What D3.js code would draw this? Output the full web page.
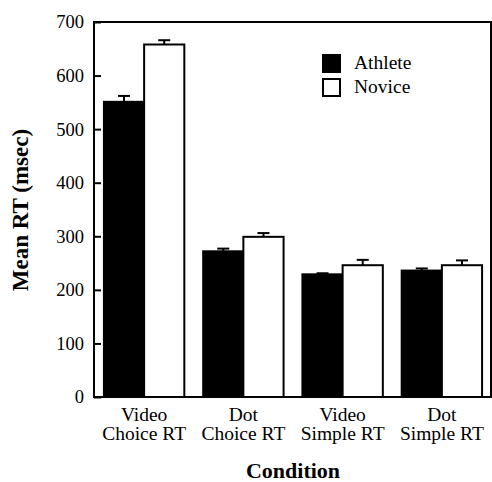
<!DOCTYPE html>
<html lang="en">
<head>
    <meta charset="UTF-8">
    <title>Mean RT by Condition</title>
    <style>
        body {
            margin: 0;
            padding: 0;
            background: #fff;
        }

        svg text {
            font-family: "Liberation Serif", "Times New Roman", serif;
            fill: #000;
        }
    </style>
</head>
<body>
    <svg width="492" height="482"></svg>

    <script src="https://d3js.org/d3.v7.min.js"></script>
    <script>
        // Data
        const conditions = [
            ["Video", "Choice RT"],
            ["Dot", "Choice RT"],
            ["Video", "Simple RT"],
            ["Dot", "Simple RT"]
        ];
        const groups = ["Athlete", "Novice"];
        const athleteMeans = [551, 272, 229, 236];
        const athleteErr = [11, 5, 2, 4];
        const noviceMeans = [658, 299, 246, 246];
        const noviceErr = [8, 7, 10, 9];
        const yTicks = [0, 100, 200, 300, 400, 500, 600, 700];

        const svg = d3.select("svg");
        const plotLeft = 94, plotRight = 491, plotTop = 22, plotBottom = 397;

        const x = d3.scaleBand()
            .domain(d3.range(conditions.length))
            .range([plotLeft, 492])
            .paddingInner(0.19)
            .paddingOuter(0.1);

        const xSub = d3.scaleBand()
            .domain(groups)
            .range([0, x.bandwidth()]);

        const y = d3.scaleLinear()
            .domain([0, 700])
            .range([plotBottom, plotTop]);

        // rows for each bar
        const rows = [];
        conditions.forEach((c, i) => {
            rows.push({ i: i, g: "Athlete", v: athleteMeans[i], e: athleteErr[i] });
            rows.push({ i: i, g: "Novice", v: noviceMeans[i], e: noviceErr[i] });
        });

        // error bars (drawn first so bars cover lower half)
        const err = svg.append("g")
            .attr("stroke", "#000")
            .attr("stroke-width", 2);
        rows.forEach(d => {
            const cx = x(d.i) + xSub(d.g) + xSub.bandwidth() / 2;
            err.append("line")
                .attr("x1", cx).attr("x2", cx)
                .attr("y1", y(d.v)).attr("y2", y(d.v + d.e));
            err.append("line")
                .attr("x1", cx - 6).attr("x2", cx + 6)
                .attr("y1", y(d.v + d.e)).attr("y2", y(d.v + d.e));
        });

        // bars
        svg.append("g")
            .selectAll("rect")
            .data(rows)
            .enter()
            .append("rect")
            .attr("x", d => x(d.i) + xSub(d.g))
            .attr("y", d => y(d.v))
            .attr("width", xSub.bandwidth())
            .attr("height", d => y(0) - y(d.v))
            .attr("fill", d => d.g === "Athlete" ? "#000" : "#fff")
            .attr("stroke", "#000")
            .attr("stroke-width", 2);

        // frame
        svg.append("rect")
            .attr("x", plotLeft)
            .attr("y", plotTop)
            .attr("width", plotRight - plotLeft)
            .attr("height", plotBottom - plotTop)
            .attr("fill", "none")
            .attr("stroke", "#000")
            .attr("stroke-width", 2);

        // y axis ticks (inward) and labels
        const yAxis = svg.append("g")
            .attr("transform", `translate(${plotLeft},0)`)
            .call(d3.axisRight(y).tickValues(yTicks).tickSize(7).tickFormat(""));
        yAxis.select(".domain").remove();
        yAxis.selectAll("line").attr("stroke-width", 2);

        svg.append("g")
            .selectAll("text")
            .data(yTicks)
            .enter()
            .append("text")
            .attr("x", 84)
            .attr("y", d => y(d))
            .attr("dy", "0.35em")
            .attr("text-anchor", "end")
            .attr("font-size", 18.5)
            .text(d => d);

        // x labels
        const xl = svg.append("g")
            .selectAll("text")
            .data(conditions)
            .enter()
            .append("text")
            .attr("text-anchor", "middle")
            .attr("font-size", 19.5);
        xl.append("tspan")
            .attr("x", (d, i) => x(i) + x.bandwidth() / 2)
            .attr("y", 421)
            .text(d => d[0]);
        xl.append("tspan")
            .attr("x", (d, i) => x(i) + x.bandwidth() / 2)
            .attr("y", 440)
            .text(d => d[1]);

        // axis titles
        svg.append("text")
            .attr("x", (plotLeft + 492) / 2)
            .attr("y", 478)
            .attr("text-anchor", "middle")
            .attr("font-size", 22)
            .attr("font-weight", "bold")
            .text("Condition");

        svg.append("text")
            .attr("transform", `translate(28,210) rotate(-90)`)
            .attr("text-anchor", "middle")
            .attr("font-size", 23)
            .attr("font-weight", "bold")
            .text("Mean RT (msec)");

        // legend
        const legend = svg.append("g")
            .selectAll("g")
            .data(groups)
            .enter()
            .append("g")
            .attr("transform", (d, i) => `translate(323,${55 + i * 24})`);
        legend.append("rect")
            .attr("width", 17)
            .attr("height", 17)
            .attr("fill", d => d === "Athlete" ? "#000" : "#fff")
            .attr("stroke", "#000")
            .attr("stroke-width", 2);
        legend.append("text")
            .attr("x", 31)
            .attr("y", 14)
            .attr("font-size", 19.5)
            .text(d => d);
    </script>
</body>
</html>
